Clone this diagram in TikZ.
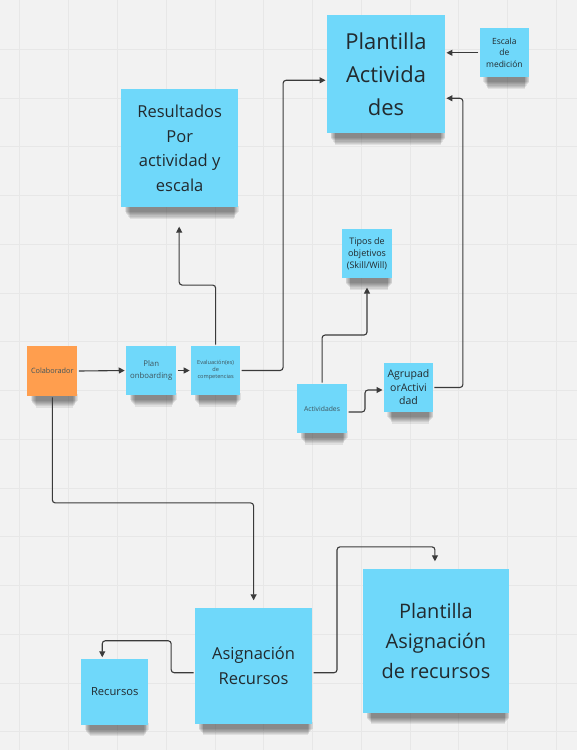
\documentclass[tikz,border=0pt]{standalone}
\usepackage{fontspec}
\setmainfont{Open Sans}
\usetikzlibrary{arrows.meta,calc}
\definecolor{bg}{HTML}{F2F2F2}
\definecolor{gridc}{HTML}{E7E7E7}
\definecolor{noteblue}{HTML}{6FD8FA}
\definecolor{noteorange}{HTML}{FF9E4E}
\definecolor{txt}{HTML}{222A2E}
\definecolor{txtsoft}{HTML}{3E545C}
\definecolor{conncol}{HTML}{3A3A3A}
\pgfdeclarelayer{backlayer}
\pgfdeclarelayer{shadowlayer}
\pgfsetlayers{backlayer,shadowlayer,main}
\newcommand\nshadow[1]{%
  \begin{pgfonlayer}{shadowlayer}
  \foreach \k in {0,...,6} {
    \fill[black, opacity=0.075] ($(#1.south west)+({5+\k*0.8},-3)$) rectangle ($(#1.south east)+({-1-\k*0.8},{3.5+\k*1.1})$);
  }
  \end{pgfonlayer}}
\tikzset{
  note/.style={rectangle, fill=noteblue, inner sep=0pt, outer sep=1.5pt, align=center, text=txt},
  orangenote/.style={note, fill=noteorange},
  conn/.style={draw=conncol, line width=1.1pt, rounded corners=3pt, -{Triangle[length=6pt,width=6pt]}},
}
\begin{document}
\begin{tikzpicture}[x=1pt,y=-1pt]
\begin{pgfonlayer}{backlayer}
\fill[bg] (0,0) rectangle (577,750);
\foreach \i in {0,...,11} { \draw[gridc, line width=0.7pt] ({19.5+48.8*\i},0) -- ({19.5+48.8*\i},750); }
\foreach \j in {1,...,15} { \draw[gridc, line width=0.7pt] (0,{48.8*\j}) -- (577,{48.8*\j}); }
\end{pgfonlayer}
\useasboundingbox (0,0) rectangle (577,750);

% nodes
\node[note, minimum width=118pt, minimum height=118pt, font=\fontsize{22}{33}\selectfont] (pa) at (386,74) {Plantilla\\Activida\\des};
\node[note, minimum width=49pt, minimum height=49pt, font=\fontsize{8.5}{12}\selectfont] (escala) at (504.5,52.5) {Escala\\de\\medición};
\node[note, minimum width=117pt, minimum height=118pt, font=\fontsize{16.5}{24.5}\selectfont] (res) at (179.5,148) {Resultados\\Por\\actividad y\\escala};
\node[orangenote, minimum width=50pt, minimum height=50pt, text=txtsoft, font=\fontsize{7.3}{9}\selectfont] (colab) at (52,371) {Colaborador};
\node[note, minimum width=50pt, minimum height=49pt, text=txtsoft, font=\fontsize{7.8}{12}\selectfont] (plan) at (151,370.5) {Plan\\onboarding};
\node[note, minimum width=49pt, minimum height=49pt, text=txtsoft, font=\fontsize{5.6}{7}\selectfont] (eval) at (215.5,370.5) {Evaluación(es)\\de\\competencias};
\node[note, minimum width=50pt, minimum height=49pt, font=\fontsize{9}{12}\selectfont] (tipos) at (367,253.5) {Tipos de\\objetivos\\(Skill/Will)};
\node[note, minimum width=50pt, minimum height=49pt, text=txtsoft, font=\fontsize{6.8}{9}\selectfont] (activ) at (322,408.5) {Actividades};
\node[note, minimum width=49pt, minimum height=49pt, font=\fontsize{10.5}{13.5}\selectfont] (agrup) at (408.5,387.5) {Agrupad\\orActivi\\dad};
\node[note, minimum width=117pt, minimum height=116pt, font=\fontsize{16.5}{25}\selectfont] (asig) at (253.5,666) {Asignación\\Recursos};
\node[note, minimum width=67pt, minimum height=66pt, font=\fontsize{11.2}{14}\selectfont] (rec) at (114.5,692) {Recursos};
\node[note, minimum width=146pt, minimum height=144pt, font=\fontsize{20}{30}\selectfont] (par) at (436,641) {Plantilla\\Asignación\\de recursos};

\foreach \n in {pa,escala,res,colab,plan,eval,tipos,activ,agrup,asig,rec,par} { \nshadow{\n} }

% connectors
\draw[conn] (colab.east) -- (plan.west);
\draw[conn] (plan.east) -- (eval.west);
\draw[conn] (eval.east) -| (283,80) -- (pa.west |- 0,80);
\draw[conn, shorten >=18pt] (eval.north) |- (179,285) -- (res.south -| 179,0);
\draw[conn] (escala.west) -- (pa.east |- escala.west);
\draw[conn] (agrup.east) -| (463,98) -- (pa.east |- 0,98);
\draw[conn, shorten >=8pt] (activ.north) |- (367,335) -- (tipos.south);
\draw[conn] ($(activ.east)+(0,3.5)$) -| (365,390) -- (agrup.west |- 0,390);
\draw[conn, shorten >=6pt] (colab.south) |- (asig.north |- 0,503) -- (asig.north);
\draw[conn] ($(asig.west)+(0,7)$) -| (171,641) -| (rec.north -| 102,0);
\draw[conn, shorten >=6pt] ($(asig.east)+(0,7)$) -| (337,547) -| (par.north -| 435,0);
\end{tikzpicture}
\end{document}
